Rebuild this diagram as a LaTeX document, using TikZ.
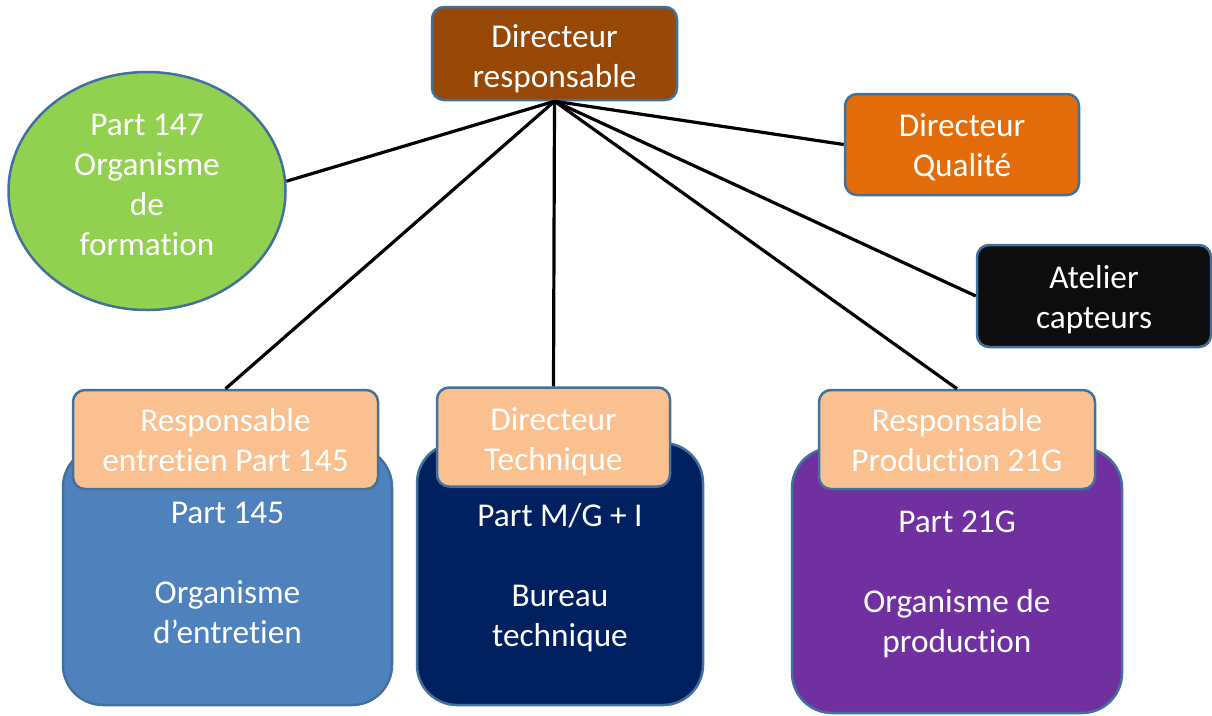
\documentclass[tikz,border=0pt]{standalone}
\usepackage{fontspec}
\setmainfont[Ligatures=NoCommon]{Carlito}
\usetikzlibrary{shapes.geometric}

\definecolor{bordblue}{HTML}{41719C}
\definecolor{brownfill}{HTML}{974806}
\definecolor{qualfill}{HTML}{E36C0A}
\definecolor{atelfill}{HTML}{0D0D0D}
\definecolor{greenfill}{HTML}{92D050}
\definecolor{peachfill}{HTML}{FAC090}
\definecolor{bluefill}{HTML}{4F81BD}
\definecolor{navyfill}{HTML}{002060}
\definecolor{purplefill}{HTML}{7030A0}

\begin{document}
\begin{tikzpicture}[x=1pt, y=-1pt]
            \tikzstyle{box}=[draw=bordblue, line width=2.5pt, rounded corners=12pt, inner sep=0pt]
            \tikzstyle{bigbox}=[box, rounded corners=40pt]
            \tikzstyle{txt}=[text=white, align=center, inner sep=0pt, font=\fontsize{33.3}{40}\selectfont]
            \tikzstyle{link}=[line width=3.2pt, black]
            \useasboundingbox (0,0) rectangle (1212,715);

            % top row
            \node[box, fill=brownfill, minimum width=245, minimum height=93] (resp) at (554.5,53.5) {};
            \node[box, ellipse, fill=greenfill, minimum width=277, minimum height=238] (form) at (147,191) {};
            \node[box, fill=qualfill, minimum width=234, minimum height=101] (qual) at (962,144.5) {};
            \node[box, fill=atelfill, minimum width=234, minimum height=102] (atel) at (1094,296) {};

            % organismes
            \node[bigbox, fill=bluefill, minimum width=329, minimum height=258] (entbox) at (227.5,576) {};
            \node[bigbox, fill=navyfill, minimum width=286, minimum height=262] (techbox) at (560,574) {};
            \node[bigbox, fill=purplefill, minimum width=330, minimum height=265] (prodbox) at (957,580.5) {};

            % responsables
            \node[box, fill=peachfill, minimum width=305, minimum height=99] (ent) at (225.5,439.5) {};
            \node[box, fill=peachfill, minimum width=233, minimum height=99] (tech) at (553.5,437) {};
            \node[box, fill=peachfill, minimum width=276, minimum height=99] (prod) at (957,439.5) {};

            % texts
            \node[txt] (resptxt) at (554.5,59) {Directeur\\responsable};
            \node[txt] (formtxt) at (147,184.5) {Part 147\\Organisme\\de\\formation};
            \node[txt] (qualtxt) at (962,147.5) {Directeur\\Qualité};
            \node[txt] (ateltxt) at (1094,300) {Atelier\\capteurs};
            \node[txt] (entboxtxt) at (227.5,573) {Part 145\\[40pt]Organisme\\d’entretien};
            \node[txt] (techboxtxt) at (560,578) {Part M/G + I\\[40pt]Bureau\\technique};
            \node[txt] (prodboxtxt) at (957,584.5) {Part 21G\\[40pt]Organisme de\\production};
            \node[txt] (enttxt) at (225.5,440.5) {Responsable\\entretien Part 145};
            \node[txt] (techtxt) at (553.5,442) {Directeur\\Technique};
            \node[txt] (prodtxt) at (957,440.5) {Responsable\\Production 21G};

            \draw[link] (resp.south) -- (form.4);
            \draw[link] (resp.south) -- (qual.west);
            \draw[link] (resp.south) -- (atel.west);
            \draw[link] (resp.south) -- (ent.north);
            \draw[link] (resp.south) -- (tech.north);
            \draw[link] (resp.south) -- (prod.north);
        \end{tikzpicture}
\end{document}
